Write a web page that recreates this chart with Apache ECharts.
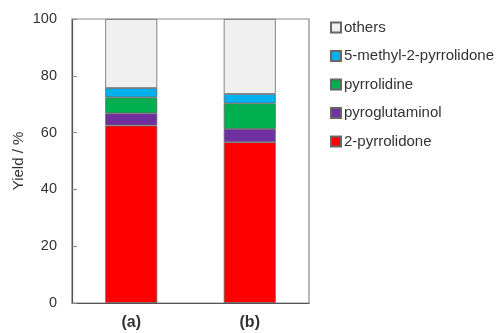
<!DOCTYPE html>
<html><head><meta charset="utf-8">
<script src="https://cdn.jsdelivr.net/npm/echarts@6/dist/echarts.min.js"></script>
<style>html,body{margin:0;padding:0;background:#fff}#c{width:498px;height:333px}</style>
</head><body><div id="c"></div>
<script>
const categories = ['(a)', '(b)'];
const pyrrolidone2 = [62.5, 56.6];
const pyroglutaminol = [4.3, 4.7];
const pyrrolidine = [5.6, 9.0];
const methylPyrrolidone = [3.3, 3.3];
const others = [24.3, 26.4];
const yTicks = [0, 20, 40, 60, 80, 100];

const seriesDefs = [
  ['2-pyrrolidone', pyrrolidone2, '#ff0000'],
  ['pyroglutaminol', pyroglutaminol, '#7030a0'],
  ['pyrrolidine', pyrrolidine, '#00b050'],
  ['5-methyl-2-pyrrolidone', methylPyrrolidone, '#00b0f0'],
  ['others', others, '#f0f0f0']
];
const font = 'Liberation Sans, Arial, sans-serif';
const chart = echarts.init(document.getElementById('c'), null, {renderer: 'canvas'});
chart.setOption({
  animation: false,
  textStyle: {fontFamily: font},
  grid: {left: 72, right: 189, top: 19, bottom: 30, show: true, borderColor: '#8a8a8a', borderWidth: 1.2, backgroundColor: 'transparent'},
  legend: {
    orient: 'vertical', left: 325, top: 15,
    itemWidth: 10, itemHeight: 10, itemGap: 13.5,
    icon: 'rect',
    data: ['others', '5-methyl-2-pyrrolidone', 'pyrrolidine', 'pyroglutaminol', '2-pyrrolidone'],
    textStyle: {fontSize: 15, color: '#333', fontFamily: font, padding: [0, 0, 0, -2]}
  },
  xAxis: {
    type: 'category', data: categories,
    axisLine: {lineStyle: {color: '#555', width: 1.2}},
    axisTick: {show: false},
    axisLabel: {fontSize: 16, fontWeight: 'bold', color: '#333', margin: 12, fontFamily: font}
  },
  yAxis: {
    type: 'value', min: yTicks[0], max: yTicks[yTicks.length - 1], interval: 20,
    name: 'Yield / %', nameLocation: 'middle', nameGap: 46, nameRotate: 90,
    nameTextStyle: {fontSize: 15, color: '#333', fontFamily: font},
    axisLine: {show: true, lineStyle: {color: '#555', width: 1.2}},
    axisTick: {show: true, inside: true, length: 5, lineStyle: {color: '#888'}},
    axisLabel: {fontSize: 14.5, color: '#333', margin: 15, fontFamily: font},
    splitLine: {show: false}
  },
  series: seriesDefs.map(([name, data, color]) => ({
    name, type: 'bar', stack: 'total', data,
    barWidth: 52,
    itemStyle: {color, borderColor: '#666', borderWidth: 0.8}
  }))
});
</script></body></html>
